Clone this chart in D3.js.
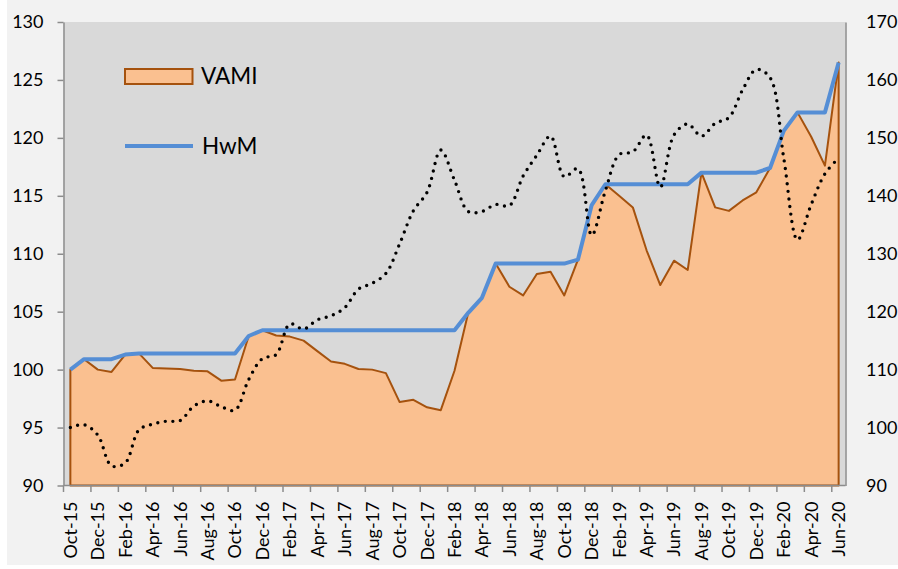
<!DOCTYPE html>
<html><head><meta charset="utf-8">
<script src="https://cdn.jsdelivr.net/npm/d3@7"></script>
<style>body{margin:0;background:#fff}svg{display:block}</style>
</head><body><svg id="c" width="898" height="569"></svg>
<script>
const months = ["Oct-15","Nov-15","Dec-15",
 "Jan-16","Feb-16","Mar-16","Apr-16","May-16","Jun-16","Jul-16","Aug-16","Sep-16","Oct-16","Nov-16","Dec-16",
 "Jan-17","Feb-17","Mar-17","Apr-17","May-17","Jun-17","Jul-17","Aug-17","Sep-17","Oct-17","Nov-17","Dec-17",
 "Jan-18","Feb-18","Mar-18","Apr-18","May-18","Jun-18","Jul-18","Aug-18","Sep-18","Oct-18","Nov-18","Dec-18",
 "Jan-19","Feb-19","Mar-19","Apr-19","May-19","Jun-19","Jul-19","Aug-19","Sep-19","Oct-19","Nov-19","Dec-19",
 "Jan-20","Feb-20","Mar-20","Apr-20","May-20","Jun-20"];
const vami = [100.0,100.9,100.0,99.8,101.3,101.4,100.15,100.1,100.05,99.9,
 99.85,99.05,99.15,102.9,103.4,102.95,102.85,102.5,101.6,100.7,
 100.5,100.05,100.0,99.7,97.2,97.4,96.75,96.5,99.9,104.9,
 106.2,109.15,107.15,106.4,108.25,108.45,106.4,109.5,114.2,116.0,
 115.0,114.0,110.3,107.3,109.4,108.6,117.0,114.0,113.7,114.6,
 115.3,117.4,120.6,122.2,120.1,117.6,126.5];
const hwm = [100.0,100.9,100.9,100.9,101.3,101.4,101.4,101.4,101.4,101.4,
 101.4,101.4,101.4,102.9,103.4,103.4,103.4,103.4,103.4,103.4,
 103.4,103.4,103.4,103.4,103.4,103.4,103.4,103.4,103.4,104.9,
 106.2,109.15,109.15,109.15,109.15,109.15,109.15,109.5,114.2,116.0,
 116.0,116.0,116.0,116.0,116.0,116.0,117.0,117.0,117.0,117.0,
 117.0,117.4,120.6,122.2,122.2,122.2,126.5];
const bench = [100.0,100.5,98.7,93.4,93.9,99.6,100.6,101.1,101.2,103.7,
 104.6,103.6,103.0,108.3,111.9,112.6,117.9,117.0,118.6,119.3,
 120.7,123.9,124.9,126.6,131.7,137.4,140.6,147.9,142.7,137.3,
 137.3,138.5,138.3,143.4,147.0,150.3,143.3,144.7,133.2,140.9,
 147.1,147.6,150.5,141.5,150.5,152.4,150.3,152.5,153.5,158.3,
 161.8,160.4,146.5,132.4,138.5,143.8,146.5];
const leftTicks = [90,95,100,105,110,115,120,125,130];
const rightTicks = [90,100,110,120,130,140,150,160,170];
const legendLabels = ["VAMI","HwM"];

const L = 63.5, R = 845.5, T = 22, B = 485.5;
const FONT = "Lato, 'Open Sans', sans-serif";
const svg = d3.select("#c");

svg.append("rect").attr("x",7).attr("y",0).attr("width",891).attr("height",565).attr("fill","#f2f2f2");
svg.append("rect").attr("x",L).attr("y",T).attr("width",R-L).attr("height",B-T).attr("fill","#d9d9d9");

const x = d3.scaleBand().domain(months).range([L,R]).paddingInner(0).paddingOuter(0);
const cx = d => x(d) + x.bandwidth()/2;
const yL = d3.scaleLinear().domain([90,130]).range([B,T]);
const yR = d3.scaleLinear().domain([90,170]).range([B,T]);

const idx = d3.range(months.length);

// VAMI area
const area = d3.area().x(i => cx(months[i])).y0(yL(90)).y1(i => yL(vami[i]));
svg.append("path").datum(idx).attr("d", area)
  .attr("fill","#fac090").attr("stroke","#a5520e").attr("stroke-width",2).attr("stroke-linejoin","round");

// HwM line
const lineH = d3.line().x(i => cx(months[i])).y(i => yL(hwm[i]));
svg.append("path").datum(idx).attr("d", lineH)
  .attr("fill","none").attr("stroke","#558ed5").attr("stroke-width",4).attr("stroke-linejoin","round");

// Benchmark dotted (right axis)
const lineB = d3.line().x(i => cx(months[i])).y(i => yR(bench[i])).curve(d3.curveCatmullRom.alpha(0.5));
svg.append("path").datum(idx).attr("d", lineB)
  .attr("fill","none").attr("stroke","#000").attr("stroke-width",3.4)
  .attr("stroke-linecap","round").attr("stroke-dasharray","0 7.6");

// Left axis
const gL = svg.append("g").attr("transform",`translate(${L},0)`)
  .call(d3.axisLeft(yL).tickValues(leftTicks).tickSize(6).tickPadding(14).tickSizeOuter(0));
// Right axis
const gR = svg.append("g").attr("transform",`translate(${R},0)`)
  .call(d3.axisRight(yR).tickValues(rightTicks).tickSize(0).tickPadding(20.5).tickSizeOuter(0));
[gL,gR].forEach(g=>{
  g.select(".domain").attr("stroke","#8c8c8c").attr("stroke-width",1.5);
  g.selectAll(".tick line").attr("stroke","#8c8c8c").attr("stroke-width",1.5);
  g.selectAll("text").attr("font-family",FONT).attr("font-size",18).attr("fill","#000");
});

// Bottom axis
const gB = svg.append("g");
gB.append("line").attr("x1",L).attr("x2",R).attr("y1",B).attr("y2",B).attr("stroke","#8c8c8c").attr("stroke-width",1.5);
const tickIdx = idx.filter(i => i % 2 === 0);
gB.selectAll("line.t").data(tickIdx).join("line").attr("class","t")
  .attr("x1", i => x(months[i])).attr("x2", i => x(months[i]))
  .attr("y1", B).attr("y2", B+6.5).attr("stroke","#8c8c8c").attr("stroke-width",1.5);
gB.selectAll("text").data(tickIdx).join("text")
  .attr("transform", i => `translate(${cx(months[i])},${B+16}) rotate(-90)`)
  .attr("text-anchor","end").attr("dy","0.36em")
  .attr("font-family",FONT).attr("font-size",18).attr("fill","#000")
  .text(i => months[i]);

// Legend
const lg = svg.append("g");
lg.append("rect").attr("x",125).attr("y",69).attr("width",67.5).attr("height",15)
  .attr("fill","#fac090").attr("stroke","#a5520e").attr("stroke-width",2);
lg.append("text").attr("x",201).attr("y",84).attr("font-family",FONT).attr("font-size",22.5).attr("fill","#000").text(legendLabels[0]);
lg.append("line").attr("x1",125).attr("x2",193).attr("y1",146).attr("y2",146)
  .attr("stroke","#558ed5").attr("stroke-width",4);
lg.append("text").attr("x",202).attr("y",153.5).attr("font-family",FONT).attr("font-size",22.5).attr("fill","#000").text(legendLabels[1]);
</script></body></html>
